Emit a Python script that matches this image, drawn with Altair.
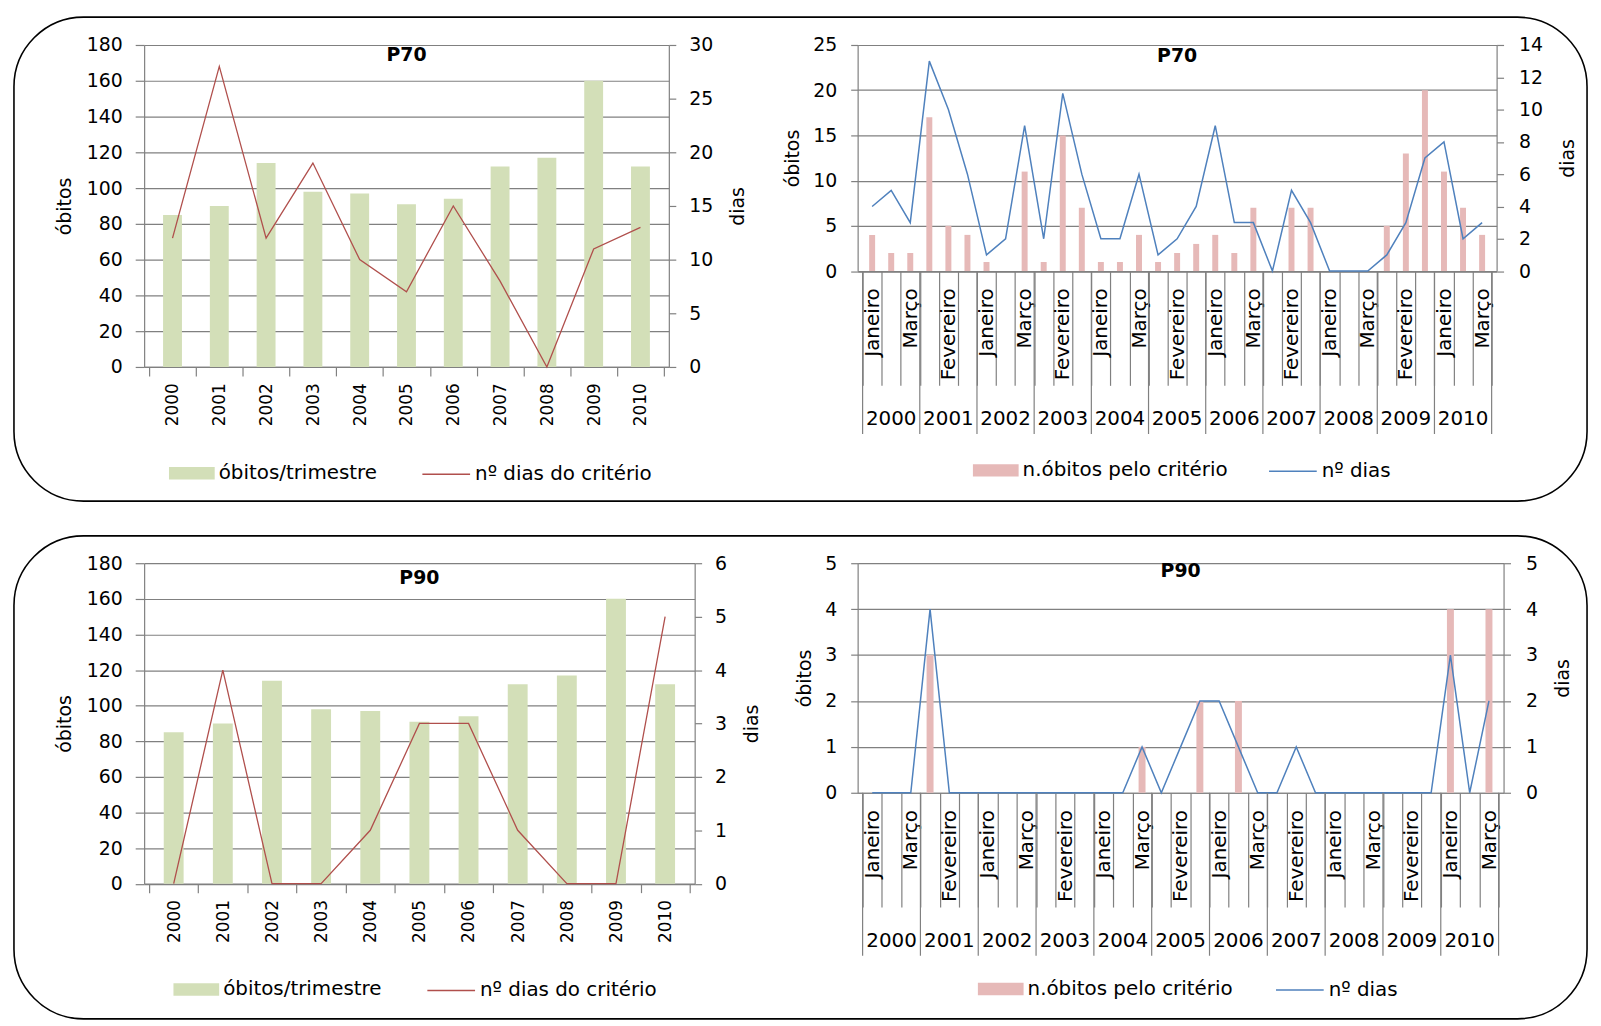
import json
import altair as alt
import pandas as pd

# ---------------- data ----------------
years = ["2000", "2001", "2002", "2003", "2004", "2005", "2006", "2007", "2008", "2009", "2010"]
months = ["Janeiro", "Fevereiro", "Março"]

obitos_trimestre = [85, 90, 114, 98, 97, 91, 94, 112, 117, 160, 112]
dias_p70_ano = [12, 28, 12, 19, 10, 7, 15, 8, 0, 11, 13]
dias_p90_ano = [0, 4, 0, 0, 1, 3, 3, 1, 0, 0, 5]

obitos_p70_mes = [4, 2, 2, 17, 5, 4, 1, 0, 11, 1, 15, 7, 1, 1, 4, 1, 2, 3, 4, 2, 7, 0, 7, 7,
                  0, 0, 0, 5, 13, 20, 11, 7, 4]
dias_p70_mes = [4, 5, 3, 13, 10, 6, 1, 2, 9, 2, 11, 6, 2, 2, 6, 1, 2, 4, 9, 3, 3, 0, 5, 3,
                0, 0, 0, 1, 3, 7, 8, 2, 3]
obitos_p90_mes = [0, 0, 0, 3, 0, 0, 0, 0, 0, 0, 0, 0, 0, 0, 1, 0, 0, 2, 0, 2, 0, 0, 0, 0,
                  0, 0, 0, 0, 0, 0, 4, 0, 4]
dias_p90_mes = [0, 0, 0, 4, 0, 0, 0, 0, 0, 0, 0, 0, 0, 0, 1, 0, 1, 2, 2, 1, 0, 0, 1, 0,
                0, 0, 0, 0, 0, 0, 3, 0, 2]

# ---------------- style ----------------
FONT = "DejaVu Sans"
GRAY = "#808080"
GREEN = "#D3DFB8"
PINK = "#E6B9B8"
RED = "#B04F4C"
BLUE = "#4F81BD"
SWATCH = "M-1,-0.27H1V0.27H-1Z"

YEARS_JS = json.dumps(years, ensure_ascii=False)
MONTHS_JS = json.dumps(months, ensure_ascii=False)


def fill_legend(x, y):
    return alt.Legend(orient="none", legendX=x, legendY=y, title=None, symbolType=SWATCH,
                      symbolSize=2116, symbolStrokeWidth=0, padding=0, labelOffset=4,
                      labelLimit=600, labelFontSize=20, labelFont=FONT, labelColor="#000")


def stroke_legend(x, y):
    return alt.Legend(orient="none", legendX=x, legendY=y, title=None, symbolType="stroke",
                      symbolSize=2304, symbolStrokeWidth=1.5, padding=0, labelOffset=4,
                      labelLimit=600, labelFontSize=20, labelFont=FONT, labelColor="#000")


def frame(y0, y1):
    return alt.Chart(pd.DataFrame({"f": [0]})).mark_rect(
        fill="#ffffff", fillOpacity=0, stroke="#000000", strokeWidth=1.6, cornerRadius=70
    ).encode(x=alt.value(-131), x2=alt.value(1452), y=alt.value(y0), y2=alt.value(y1))


def title_mark(text, W, y):
    return alt.Chart(pd.DataFrame({"t": [text]})).mark_text(
        font=FONT, fontSize=19, fontWeight="bold", baseline="middle", align="center", color="#000"
    ).encode(x=alt.value(W / 2), y=alt.value(y), text="t:N")


def right_axis(maxv, step, pad):
    return alt.Axis(values=list(range(0, maxv + 1, step)), title="dias", orient="right",
                    grid=False, tickSize=7, labelPadding=pad, titlePadding=16,
                    titleAngle=270, titleBaseline="top")


def annual(deaths, days, dmax, dstep, title, W, H, bar_w, legA, legB, frame_y, title_y):
    n = len(years)
    df = pd.DataFrame({
        "pos": [i + 0.5 for i in range(n)],
        "obitos": deaths,
        "dias": days,
        "serieA": ["óbitos/trimestre"] * n,
        "serieB": ["nº dias do critério"] * n,
    })
    x = alt.X("pos:Q", scale=alt.Scale(domain=[0, n], nice=False, zero=False),
              axis=alt.Axis(values=list(range(n + 1)),
                            labelExpr=f"{YEARS_JS}[datum.value] || ''",
                            labelAngle=270, labelOffset=W / n / 2, labelPadding=7, tickSize=9,
                            labelFontSize=17, labelOverlap=False, labelFlush=False,
                            grid=False, title=None))
    bars = alt.Chart(df).mark_bar(size=bar_w).encode(
        x=x,
        y=alt.Y("obitos:Q", scale=alt.Scale(domain=[0, 180], nice=False, zero=True),
                axis=alt.Axis(values=list(range(0, 181, 20)), title="óbitos", orient="left",
                              grid=True, tickSize=9, labelPadding=13, titlePadding=12)),
        fill=alt.Fill("serieA:N", scale=alt.Scale(domain=["óbitos/trimestre"], range=[GREEN]),
                      legend=fill_legend(*legA)),
    )
    line = alt.Chart(df).mark_line(strokeWidth=1.3).encode(
        x=x,
        y=alt.Y("dias:Q", scale=alt.Scale(domain=[0, dmax], nice=False, zero=True),
                axis=right_axis(dmax, dstep, 13)),
        stroke=alt.Stroke("serieB:N", scale=alt.Scale(domain=["nº dias do critério"], range=[RED]),
                          legend=stroke_legend(*legB)),
    )
    return alt.layer(frame(*frame_y), bars, line, title_mark(title, W, title_y)).resolve_scale(
        y="independent").properties(width=W, height=H)


def monthly(deaths, days, lmax, lstep, rmax, rstep, title, W, H, bar_w, legA, legB, title_y):
    n = len(deaths)
    df = pd.DataFrame({
        "pos": [i + 0.5 for i in range(n)],
        "obitos": deaths,
        "dias": days,
        "serieA": ["n.óbitos pelo critério"] * n,
        "serieB": ["nº dias"] * n,
    })
    x = alt.X("pos:Q", scale=alt.Scale(domain=[0, n], nice=False, zero=False),
              axis=alt.Axis(values=list(range(n + 1)),
                            labelExpr=f"(datum.value < {n} && datum.value % 2 == 0) ? "
                                      f"{MONTHS_JS}[datum.value % 3] : ''",
                            labelAngle=270, labelOffset=W / n / 2, tickSize=115,
                            labelPadding=-98, labelFontSize=20, labelOverlap=False,
                            labelFlush=False, grid=False, title=None))
    bars = alt.Chart(df).mark_bar(size=bar_w).encode(
        x=x,
        y=alt.Y("obitos:Q", scale=alt.Scale(domain=[0, lmax], nice=False, zero=True),
                axis=alt.Axis(values=list(range(0, lmax + 1, lstep)), title="óbitos", orient="left",
                              grid=True, tickSize=7, labelPadding=14, titlePadding=10)),
        fill=alt.Fill("serieA:N", scale=alt.Scale(domain=["n.óbitos pelo critério"], range=[PINK]),
                      legend=fill_legend(*legA)),
    )
    line = alt.Chart(df).mark_line(strokeWidth=1.5).encode(
        x=x,
        y=alt.Y("dias:Q", scale=alt.Scale(domain=[0, rmax], nice=False, zero=True),
                axis=right_axis(rmax, rstep, 15)),
        stroke=alt.Stroke("serieB:N", scale=alt.Scale(domain=["nº dias"], range=[BLUE]),
                          legend=stroke_legend(*legB)),
    )
    year_df = pd.DataFrame({"pos": [3 * k + 1.5 for k in range(len(years))], "ano": years})
    year_text = alt.Chart(year_df).mark_text(font=FONT, fontSize=20, baseline="middle",
                                             align="center", color="#000").encode(
        x=x, y=alt.value(H + 149), text="ano:N")
    sep_df = pd.DataFrame({"pos": [3 * k for k in range(len(years) + 1)]})
    seps = alt.Chart(sep_df).mark_rule(color=GRAY, strokeWidth=1.2).encode(
        x=x, y=alt.value(H), y2=alt.value(H + 164))
    return alt.layer(bars, line, seps, year_text, title_mark(title, W, title_y)).resolve_scale(
        y="independent").properties(width=W, height=H)


tl = annual(obitos_trimestre, dias_p70_ano, 30, 5, "P70", 528, 324, 19,
            (25, 408), (279, 407), (-28, 459), 10)
tr = monthly(obitos_p70_mes, dias_p70_mes, 25, 5, 14, 2, "P70", 643, 227.5, 6,
             (116, 405), (413, 404), 11)
bl = annual(obitos_trimestre, dias_p90_ano, 6, 1, "P90", 554, 322.5, 20,
            (29.5, 406), (284, 405), (-27.5, 458.5), 15)
br = monthly(obitos_p90_mes, dias_p90_mes, 5, 1, 5, 1, "P90", 650, 231, 7,
             (121, 405.5), (420, 404.5), 8)

chart = alt.concat(
    tl, tr, bl, br, columns=2, spacing={"row": 197.5, "column": 164}, bounds="flush"
).resolve_scale(
    fill="independent", stroke="independent"
).resolve_legend(
    fill="independent", stroke="independent"
).configure_view(
    stroke=None
).configure_axis(
    labelFont=FONT, labelFontSize=19, titleFont=FONT, titleFontSize=19, titleFontWeight="normal",
    labelColor="#000", titleColor="#000", domainColor=GRAY, tickColor=GRAY, gridColor=GRAY,
    gridWidth=1.2, domainWidth=1.2, tickWidth=1.2
).configure_text(font=FONT)

chart.save("out.html", embed_options={"renderer": "svg", "actions": False})
